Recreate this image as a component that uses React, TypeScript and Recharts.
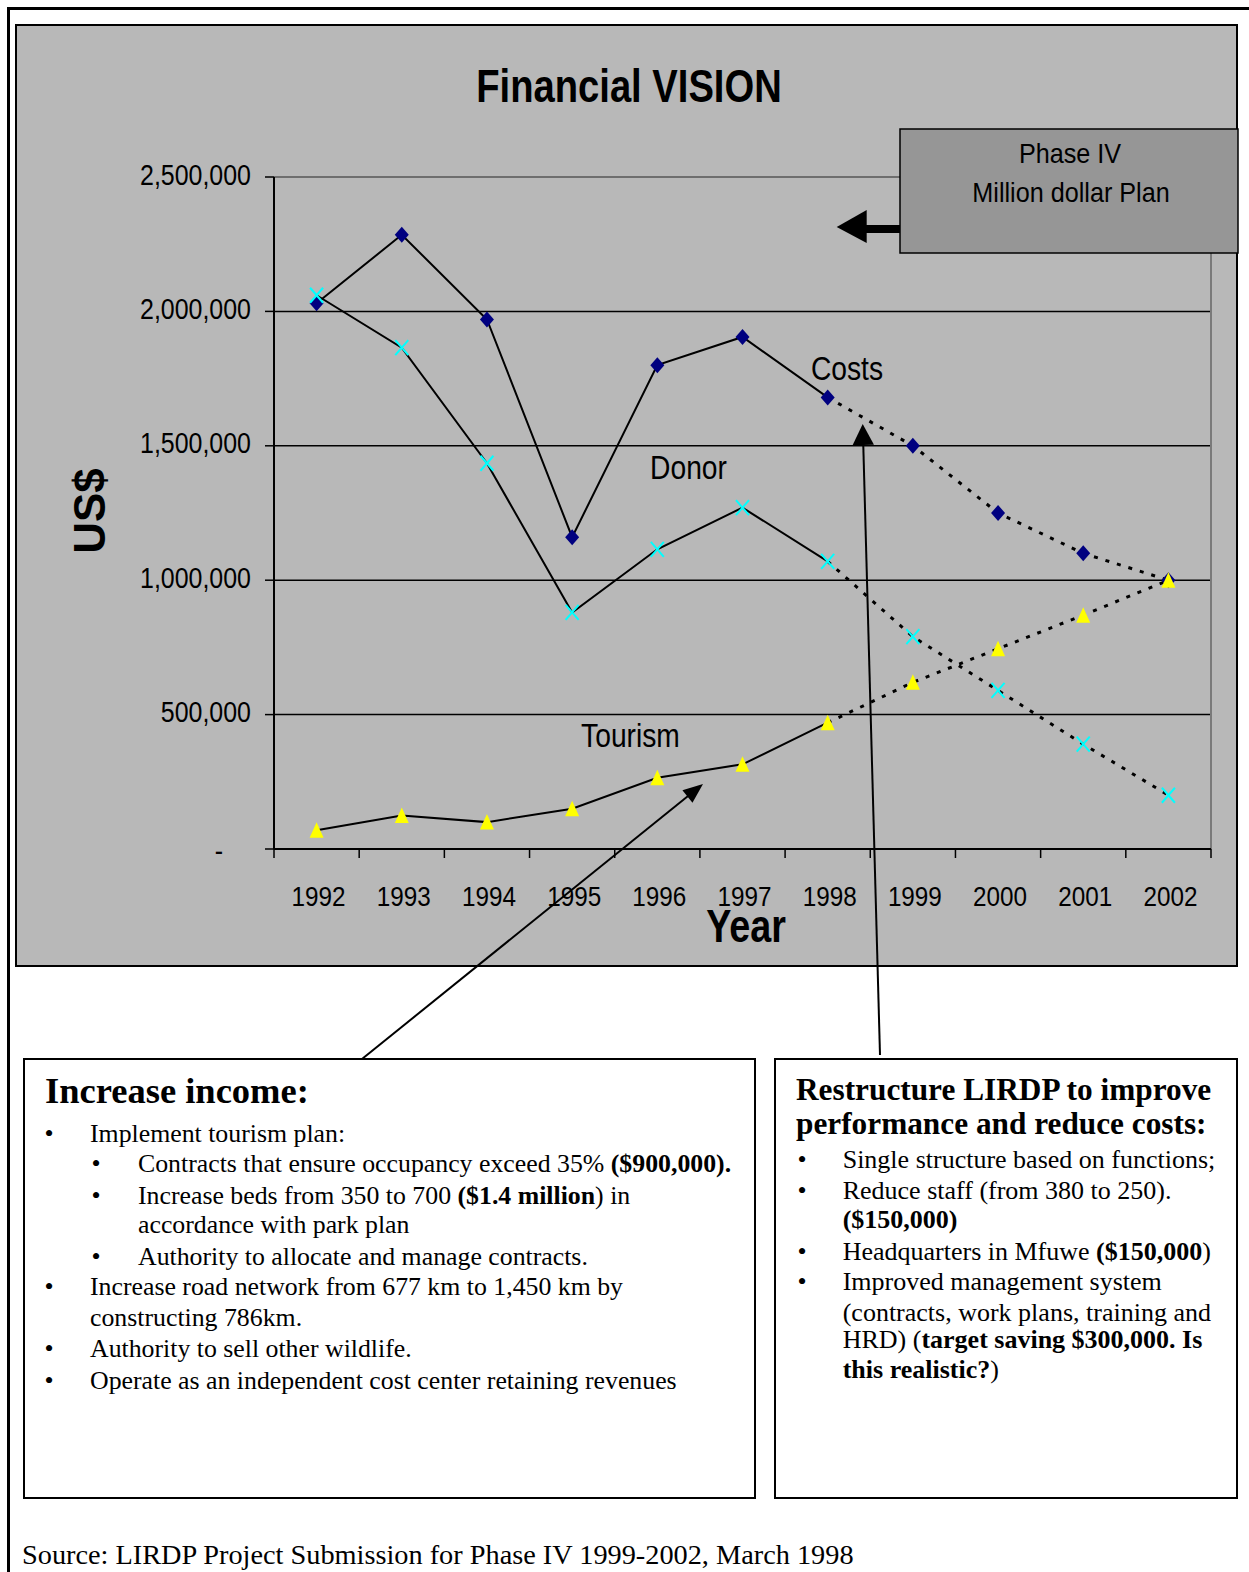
import React from 'react';
import { LineChart, Line, XAxis, YAxis, CartesianGrid, ReferenceLine } from 'recharts';

// ---- data ----
const years = ['1992', '1993', '1994', '1995', '1996', '1997', '1998', '1999', '2000', '2001', '2002'];
const costs = [2030000, 2285000, 1970000, 1160000, 1800000, 1905000, 1680000, 1500000, 1250000, 1100000, 1000000];
const donor = [2060000, 1865000, 1435000, 880000, 1115000, 1270000, 1070000, 790000, 590000, 390000, 200000];
const tourism = [70000, 125000, 100000, 150000, 265000, 315000, 470000, 620000, 745000, 870000, 1000000];
const planStartYear = '1998';
const yTicks = [0, 500000, 1000000, 1500000, 2000000, 2500000];

const planStart = years.indexOf(planStartYear);
const split = (arr: number[]) => ({
  actual: arr.map((v, i) => (i <= planStart ? v : null)),
  plan: arr.map((v, i) => (i >= planStart ? v : null)),
});
const costsS = split(costs);
const donorS = split(donor);
const tourismS = split(tourism);

const data = years.map((year, i) => ({
  idx: i,
  year,
  costs: costs[i],
  costsActual: costsS.actual[i],
  costsPlan: costsS.plan[i],
  donor: donor[i],
  donorActual: donorS.actual[i],
  donorPlan: donorS.plan[i],
  tourism: tourism[i],
  tourismActual: tourismS.actual[i],
  tourismPlan: tourismS.plan[i],
}));

const boundaryTicks = years.map((_, i) => i - 0.5).concat(years.length - 0.5);
const centerTicks = years.map((_, i) => i);
const xDomain: [number, number] = [-0.5, years.length - 0.5];
const yMax = yTicks[yTicks.length - 1];

const SANS = '"Liberation Sans", Arial, sans-serif';
const SERIF = '"Liberation Serif", "Times New Roman", serif';

const fmt = (v: number) => v.toLocaleString('en-US');

// ---- axis ticks ----
const YTick = (props: any) => {
  const { x, y, payload } = props;
  if (payload.value === 0) {
    return (
      <text transform={`translate(${x - 28},${y + 4}) scale(0.832,1)`} textAnchor="end" dy={7.6}
        fontFamily={SANS} fontSize={30} fill="#000">-</text>
    );
  }
  return (
    <text transform={`translate(${x},${y - 3}) scale(0.832,1)`} textAnchor="end" dy={10.6}
      fontFamily={SANS} fontSize={30} fill="#000">{fmt(payload.value)}</text>
  );
};

const XTick = (props: any) => {
  const { x, y, payload } = props;
  return (
    <text transform={`translate(${x + 2},${y}) scale(0.867,1)`} textAnchor="middle" dy={48}
      fontFamily={SANS} fontSize={28} fill="#000">{years[payload.value]}</text>
  );
};

// tick marks only, no label
const NoLabel = () => <g />;

// ---- markers ----
const Diamond = (props: any) => {
  const { cx, cy } = props;
  if (cx == null || cy == null) return null;
  return <polygon points={`${cx},${cy - 8} ${cx + 7},${cy} ${cx},${cy + 8} ${cx - 7},${cy}`} fill="#000080" />;
};
const Cross = (props: any) => {
  const { cx, cy } = props;
  if (cx == null || cy == null) return null;
  return (
    <g stroke="#00FFFF" strokeWidth={2}>
      <line x1={cx - 6.5} y1={cy - 7.5} x2={cx + 6.5} y2={cy + 7.5} />
      <line x1={cx - 6.5} y1={cy + 7.5} x2={cx + 6.5} y2={cy - 7.5} />
    </g>
  );
};
const Triangle = (props: any) => {
  const { cx, cy } = props;
  if (cx == null || cy == null) return null;
  return <polygon points={`${cx},${cy - 8} ${cx + 7},${cy + 7.5} ${cx - 7},${cy + 7.5}`} fill="#FFFF00" />;
};

// ---- arrow helper ----
const Arrow = ({ from, to, head = 20, half = 8, width = 2 }: any) => {
  const dx = to[0] - from[0];
  const dy = to[1] - from[1];
  const len = Math.hypot(dx, dy);
  const ux = dx / len;
  const uy = dy / len;
  const bx = to[0] - ux * head;
  const by = to[1] - uy * head;
  const px = -uy * half;
  const py = ux * half;
  return (
    <g>
      <line x1={from[0]} y1={from[1]} x2={bx + ux * 2} y2={by + uy * 2} stroke="#000" strokeWidth={width} />
      <polygon points={`${to[0]},${to[1]} ${bx + px},${by + py} ${bx - px},${by - py}`} fill="#000" />
    </g>
  );
};

const solid = { stroke: '#000', strokeWidth: 2 };
const dotted = { stroke: '#000', strokeWidth: 3, strokeDasharray: '4 8' };

const Bullet = ({ x, y }: any) => (
  <text x={x} y={y} fontFamily={SERIF} fontSize={26} textAnchor="middle">•</text>
);

export default function App() {
  return (
    <div style={{ position: 'absolute', left: 0, top: 0, width: 1249, height: 1572, background: '#fff', overflow: 'hidden' }}>
      {/* page frame and chart panel */}
      <svg width={1249} height={1572} style={{ position: 'absolute', left: 0, top: 0 }}>
        <rect x={8.5} y={8.5} width={1300} height={1700} fill="none" stroke="#000" strokeWidth={3} />
        <rect x={16} y={25} width={1221} height={941} fill="#B8B8B8" stroke="#000" strokeWidth={2} />
      </svg>

      <div style={{ position: 'absolute', left: 0, top: 0 }}>
        <LineChart width={1249} height={1000} data={data} margin={{ top: 177, right: 38, bottom: 82, left: 154 }}>
          <CartesianGrid xAxisId="grid" vertical={false} stroke="#000" strokeWidth={1.5} />
          <XAxis xAxisId="grid" dataKey="idx" type="number" domain={xDomain} allowDataOverflow ticks={boundaryTicks}
            interval={0} tick={<NoLabel />} tickSize={9} height={9}
            axisLine={{ stroke: '#000', strokeWidth: 2 }} tickLine={{ stroke: '#000', strokeWidth: 1.5 }} />
          <XAxis xAxisId="years" dataKey="idx" type="number" domain={xDomain} allowDataOverflow ticks={centerTicks}
            interval={0} tick={<XTick />} tickLine={false} axisLine={false} tickSize={0} tickMargin={0} height={60} />
          <YAxis domain={[0, yMax]} ticks={yTicks} interval={0} width={120} tickSize={9} tickMargin={14}
            tick={<YTick />} axisLine={{ stroke: '#000', strokeWidth: 2 }} tickLine={{ stroke: '#000', strokeWidth: 1.5 }} />
          <ReferenceLine xAxisId="grid" y={yMax} stroke="#6E6E6E" strokeWidth={2} />
          <ReferenceLine xAxisId="grid" x={xDomain[1]} stroke="#7A7A7A" strokeWidth={2} />

          <Line xAxisId="grid" dataKey="costsActual" {...solid} dot={false} activeDot={false} isAnimationActive={false} />
          <Line xAxisId="grid" dataKey="costsPlan" {...dotted} dot={false} activeDot={false} isAnimationActive={false} />
          <Line xAxisId="grid" dataKey="donorActual" {...solid} dot={false} activeDot={false} isAnimationActive={false} />
          <Line xAxisId="grid" dataKey="donorPlan" {...dotted} dot={false} activeDot={false} isAnimationActive={false} />
          <Line xAxisId="grid" dataKey="tourismActual" {...solid} dot={false} activeDot={false} isAnimationActive={false} />
          <Line xAxisId="grid" dataKey="tourismPlan" {...dotted} dot={false} activeDot={false} isAnimationActive={false} />

          <Line xAxisId="grid" dataKey="costs" stroke="none" dot={<Diamond />} activeDot={false} isAnimationActive={false} />
          <Line xAxisId="grid" dataKey="donor" stroke="none" dot={<Cross />} activeDot={false} isAnimationActive={false} />
          <Line xAxisId="grid" dataKey="tourism" stroke="none" dot={<Triangle />} activeDot={false} isAnimationActive={false} />
        </LineChart>
      </div>

      {/* titles, notes and call-outs */}
      <svg width={1249} height={1572} style={{ position: 'absolute', left: 0, top: 0, pointerEvents: 'none' }}>
        <text transform="translate(629,101.7) scale(0.83,1)" textAnchor="middle" fontFamily={SANS} fontWeight="bold" fontSize={46}>Financial VISION</text>
        <text transform="translate(105,511) rotate(-90)" textAnchor="middle" fontFamily={SANS} fontWeight="bold" fontSize={44}>US$</text>
        <text transform="translate(746,942) scale(0.82,1)" textAnchor="middle" fontFamily={SANS} fontWeight="bold" fontSize={46}>Year</text>

        <text transform="translate(847,380) scale(0.83,1)" textAnchor="middle" fontFamily={SANS} fontSize={34}>Costs</text>
        <text transform="translate(688.5,479.3) scale(0.83,1)" textAnchor="middle" fontFamily={SANS} fontSize={34}>Donor</text>
        <text transform="translate(630.5,747) scale(0.83,1)" textAnchor="middle" fontFamily={SANS} fontSize={34}>Tourism</text>

        {/* Phase IV call-out */}
        <rect x={862} y={225} width={40} height={8} fill="#000" />
        <polygon points="836.7,227 866.7,210 866.7,243" fill="#000" />
        <rect x={900} y={129} width={338} height={124} fill="#969696" stroke="#000" strokeWidth={1.5} />
        <text transform="translate(1070,163) scale(0.9,1)" textAnchor="middle" fontFamily={SANS} fontSize={28}>Phase IV</text>
        <text transform="translate(1071,202) scale(0.9,1)" textAnchor="middle" fontFamily={SANS} fontSize={28}>Million dollar Plan</text>

        {/* pointers from the notes */}
        <Arrow from={[362, 1059]} to={[703, 784]} head={20} half={8} />
        <Arrow from={[880, 1055]} to={[862.7, 424]} head={21} half={10.7} />

        {/* left note */}
        <rect x={24} y={1059} width={731} height={439} fill="#fff" stroke="#000" strokeWidth={2} />
        <g fontFamily={SERIF} fontSize={25.8} fill="#000">
          <text x={45} y={1103} fontWeight="bold" fontSize={36.5}>Increase income:</text>
          <Bullet x={49} y={1141.7} />
          <text x={90} y={1141.7}>Implement tourism plan:</text>
          <Bullet x={96} y={1172} />
          <text x={138} y={1172}>Contracts that ensure occupancy exceed 35%  <tspan fontWeight="bold">($900,000).</tspan></text>
          <Bullet x={96} y={1203.7} />
          <text x={138} y={1203.7}>Increase beds from 350 to 700 <tspan fontWeight="bold">($1.4 million</tspan>) in</text>
          <text x={138} y={1233}>accordance with park plan</text>
          <Bullet x={96} y={1265.4} />
          <text x={138} y={1265.4}>Authority to allocate and manage contracts.</text>
          <Bullet x={49} y={1295} />
          <text x={90} y={1295}>Increase road network from 677 km to 1,450 km by</text>
          <text x={90} y={1326.4}>constructing 786km.</text>
          <Bullet x={49} y={1357} />
          <text x={90} y={1357}>Authority to sell other wildlife.</text>
          <Bullet x={49} y={1389} />
          <text x={90} y={1389}>Operate as an independent cost center retaining revenues</text>
        </g>

        {/* right note */}
        <rect x={775} y={1059} width={462} height={439} fill="#fff" stroke="#000" strokeWidth={2} />
        <g fontFamily={SERIF} fontSize={26} fill="#000">
          <text x={796} y={1100} fontWeight="bold" fontSize={31.3}>Restructure LIRDP to improve</text>
          <text x={796} y={1134.3} fontWeight="bold" fontSize={31.3}>performance and reduce costs:</text>
          <Bullet x={802} y={1168.3} />
          <text x={842.7} y={1168.3}>Single structure based on functions;</text>
          <Bullet x={802} y={1199.3} />
          <text x={842.7} y={1199.3}>Reduce staff (from 380 to 250).</text>
          <text x={842.7} y={1227.7} fontWeight="bold">($150,000)</text>
          <Bullet x={802} y={1260} />
          <text x={842.7} y={1260}>Headquarters in Mfuwe <tspan fontWeight="bold">($150,000</tspan>)</text>
          <Bullet x={802} y={1290} />
          <text x={842.7} y={1290}>Improved management system</text>
          <text x={842.7} y={1321}>(contracts, work plans, training and</text>
          <text x={842.7} y={1348.3}>HRD) (<tspan fontWeight="bold">target saving $300,000. Is</tspan></text>
          <text x={842.7} y={1378.3}><tspan fontWeight="bold">this realistic?</tspan>)</text>
        </g>

        <text x={22} y={1564} fontFamily={SERIF} fontSize={28.3}>Source: LIRDP Project Submission for Phase IV 1999-2002, March 1998</text>
      </svg>
    </div>
  );
}
